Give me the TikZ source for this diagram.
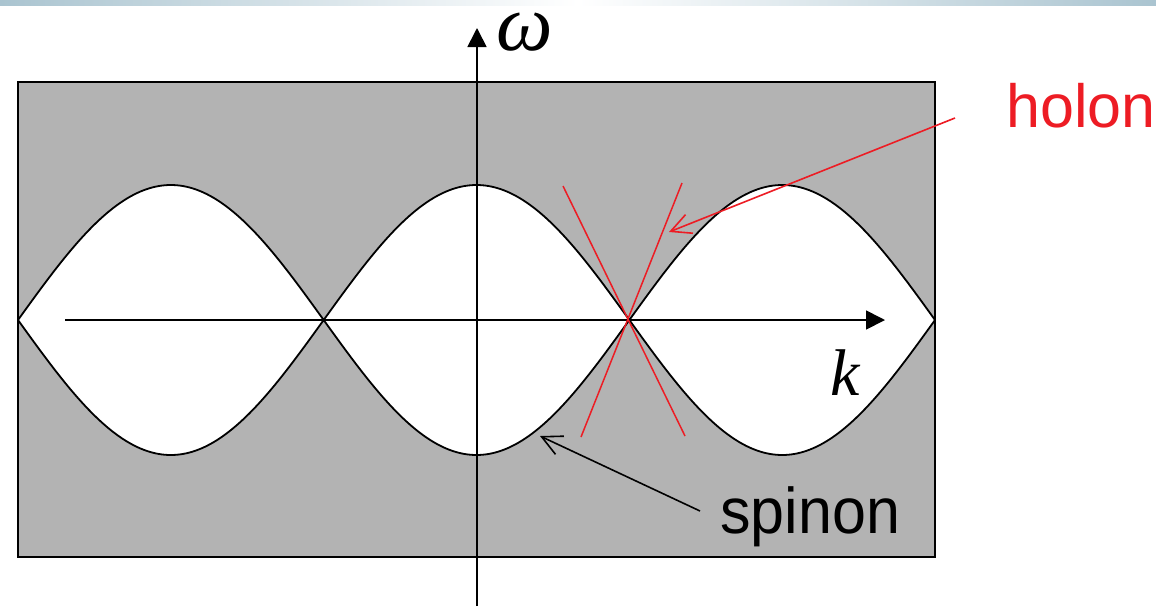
\documentclass[tikz,border=0pt]{standalone}
\usepackage{fontspec}
\setmainfont{Liberation Sans}
\newfontfamily\tmsfont{Liberation Serif}
\usetikzlibrary{arrows.meta}
\definecolor{panelgray}{RGB}{179,179,179}
\definecolor{holonred}{RGB}{237,28,36}
\definecolor{barblue}{RGB}{170,196,208}
\tikzset{
  curve/.style={black, line width=1.8pt},
  axis/.style={black, line width=1.7pt, -{Triangle[length=19pt,width=19pt]}},
  pointer/.style={line width=1.6pt, -{Straight Barb[length=20pt,width=20pt,line width=1.6pt]}},
  redline/.style={holonred, line width=1.5pt},
  lbl/.style={inner sep=0pt, font=\fontsize{61pt}{61pt}\selectfont},
  mathlbl/.style={inner sep=0pt, font=\fontsize{66pt}{66pt}\tmsfont\itshape},
}
\begin{document}
\begin{tikzpicture}[x=1pt,y=-1pt]
\useasboundingbox (0,0) rectangle (1156,606);
% top bar
\shade[left color=barblue, right color=barblue, middle color=white] (0,0) rectangle (1156,5);
% panel
\fill[panelgray] (18,82) rectangle (935,557);
\fill[white] plot[domain=18:935, samples=301] (\x, {320-135*abs(sin(0.58887*(\x-18)))})
  -- plot[domain=935:18, samples=301] (\x, {320+135*abs(sin(0.58887*(\x-18)))}) -- cycle;
\draw[curve] plot[domain=18:935, samples=301] (\x, {320-135*abs(sin(0.58887*(\x-18)))});
\draw[curve] plot[domain=18:935, samples=301] (\x, {320+135*abs(sin(0.58887*(\x-18)))});
\draw[black, line width=1.8pt] (18,82) rectangle (935,557);
% axes
\coordinate (kstart) at (65,320);
\coordinate (kend) at (885,320);
\coordinate (wstart) at (477,606);
\coordinate (wend) at (477,28);
\draw[axis] (kstart) -- (kend);
\draw[axis] (wstart) -- (wend);
\node[mathlbl, anchor=base, text height=36pt, text depth=0pt, font=\fontsize{80pt}{80pt}\tmsfont\itshape] (omega) at (525,50) {ω};
\node[mathlbl, anchor=base] (klabel) at (845,395) {k};
% holon lines
\coordinate (h1a) at (563,186);
\coordinate (h1b) at (685,436);
\coordinate (h2a) at (682,183);
\coordinate (h2b) at (581,437);
\draw[redline] (h1a) -- (h1b);
\draw[redline] (h2a) -- (h2b);
% labels
\node[lbl, text=holonred, anchor=base west] (holon) at (1006,127) {holon};
\node[lbl, anchor=base west, yscale=1.06] (spinon) at (720,533) {spinon};
\coordinate (holontail) at (955,118);
\coordinate (holontip) at (669,232);
\coordinate (spinontail) at (700,511);
\coordinate (spinontip) at (540,436);
\draw[pointer, holonred] (holontail) -- (holontip);
\draw[pointer, black] (spinontail) -- (spinontip);
\end{tikzpicture}
\end{document}
